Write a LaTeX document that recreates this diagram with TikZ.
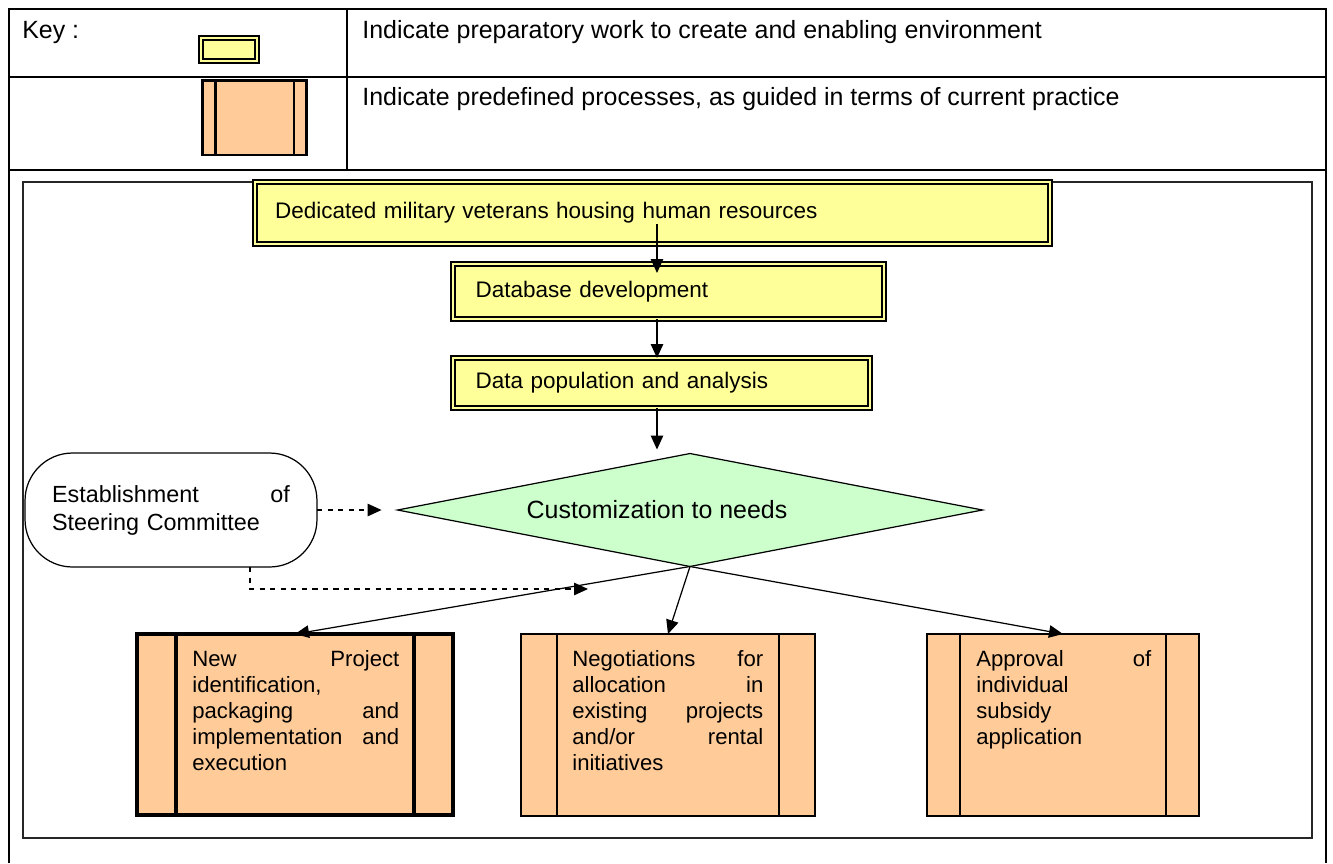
\documentclass[tikz,border=0pt]{standalone}
\usepackage{fontspec}
\setmainfont{Liberation Sans}
\usepackage{tikz}
\usetikzlibrary{arrows.meta, shapes.geometric}

\definecolor{prepyel}{HTML}{FFFF99}
\definecolor{predorange}{HTML}{FFCC99}
\definecolor{custgreen}{HTML}{CCFFCC}

\begin{document}
\begin{tikzpicture}[x=0.02cm, y=-0.02cm, >={Triangle[length=2.8mm, width=2.5mm]},
    font=\fontsize{12.8}{15}\selectfont,
    tabline/.style={line width=1.2pt},
    keytext/.style={anchor=base west, inner sep=0pt, font=\fontsize{14.2}{16}\selectfont},
    prep/.style={draw, fill=prepyel, line width=1pt, double=prepyel, double distance=1.1pt,
        inner xsep=0.4cm, inner ysep=0pt, outer sep=0pt, align=left},
    predef/.style={draw, fill=predorange, line width=1.3pt, outer sep=0pt, inner sep=0pt},
    boxtext/.style={anchor=north west, inner sep=0pt, align=left,
        font=\fontsize{12.6}{14.8}\selectfont},
    arr/.style={->, line width=0.7pt},
    dasharr/.style={->, dashed, line width=0.7pt}]
    \useasboundingbox (0,0) rectangle (1333,863);

    \draw[tabline] (9,863) -- (9,9) -- (1326,9) -- (1326,863);
    \draw[tabline] (9,77) -- (1326,77) (9,170) -- (1326,170) (347,9) -- (347,170);
    \draw[line width=0.8pt, black!85] (23,182) rectangle (1312,838);

    \node[keytext] (keylbl) at (22,38) {Key :};
    \node[keytext] (keyprep) at (362,38) {Indicate preparatory work to create and enabling environment};
    \node[keytext] (keypred) at (362,105) {Indicate predefined processes, as guided in terms of current practice};
    \node[prep, inner sep=0pt, minimum width=1.12cm, minimum height=0.46cm] (keyprepbox) at (229,49.5) {};
    \node[predef, line width=1.7pt, minimum width=2.1cm, minimum height=1.5cm] (keypredbox) at (254.5,117.5) {};

    \node[prep, text width=15.1cm, minimum height=1.24cm] (dedic) at (652.5,213) {Dedicated military veterans housing human resources};
    \node[prep, inner xsep=0.45cm, text width=7.72cm, minimum height=1.1cm] (dbase) at (668.5,291.5) {Database development};
    \node[prep, inner xsep=0.45cm, text width=7.44cm, minimum height=1cm] (dpop) at (661.5,383) {Data population and analysis};

    \node[diamond, draw, fill=custgreen, line width=0.7pt, inner sep=0pt, outer sep=0pt,
        minimum width=11.7cm, minimum height=2.26cm] (custom) at (690,510) {};
    \node[font=\fontsize{14.2}{16}\selectfont] (customtxt) at (657,510) {Customization to needs};

    \node[draw, line width=0.7pt, rounded corners=0.95cm, outer sep=0pt, minimum width=5.84cm,
        minimum height=2.28cm, text width=4.76cm, align=left,
        font=\fontsize{13.3}{15.9}\selectfont] (steer) at (171,510) {Establishment\hfill of\\Steering Committee};

    \node[predef, line width=1.9pt, minimum width=6.32cm, minimum height=3.62cm] (newproj) at (295,724.5) {};
    \node[predef, minimum width=5.88cm, minimum height=3.64cm] (negot) at (668,725) {};
    \node[predef, minimum width=5.44cm, minimum height=3.64cm] (approv) at (1063,725) {};

    \foreach \b/\o/\w in {keypredbox/0.26/1.7, newproj/0.78/1.9, negot/0.72/1.3, approv/0.66/1.3} {
        \draw[line width=\w pt] ([xshift=\o cm]\b.north west) -- ([xshift=\o cm]\b.south west);
        \draw[line width=\w pt] ([xshift=-\o cm]\b.north east) -- ([xshift=-\o cm]\b.south east);
    }

    \node[boxtext, text width=4.14cm] (newprojtxt) at (192,650)
        {New\hfill Project\\identification,\\packaging\hfill and\\implementation\hfill and\\execution};
    \node[boxtext, text width=3.82cm] (negottxt) at (572,650)
        {Negotiations\hfill for\\allocation\hfill in\\existing\hfill projects\\and/or\hfill rental\\initiatives};
    \node[boxtext, text width=3.5cm] (approvtxt) at (976,650)
        {Approval\hfill of\\individual\\subsidy\\application};

    \coordinate (spine) at (657,0);
    \coordinate (dashend) at (588,589);
    \draw[arr] ([yshift=0.4cm]dedic.south -| spine) -- ([yshift=-0.18cm]dbase.north -| spine);
    \draw[arr] (dbase.south -| spine) -- (dpop.north -| spine);
    \draw[arr, shorten >=0.08cm] (dpop.south -| spine) -- (custom.north -| spine);
    \draw[dasharr, shorten >=0.32cm] (steer.east) -- (custom.west);
    \draw[dasharr] ([xshift=1.58cm]steer.south) |- (dashend);
    \draw[arr] (custom.south) -- (newproj.north);
    \draw[arr] (custom.south) -- (negot.north);
    \draw[arr] (custom.south) -- (approv.north);
\end{tikzpicture}
\end{document}
